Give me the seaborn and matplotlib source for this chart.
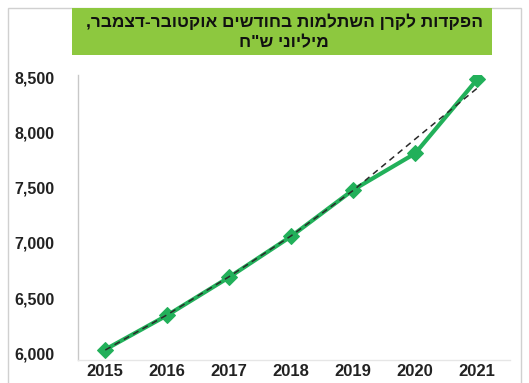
import matplotlib
matplotlib.use("Agg")
import matplotlib.pyplot as plt
import seaborn as sns
import pandas as pd
from matplotlib.patches import Rectangle
from matplotlib.ticker import FuncFormatter

years = [2015, 2016, 2017, 2018, 2019, 2020, 2021]
deposits = [6035, 6345, 6690, 7060, 7480, 7810, 8480]
trend = [6030, 6350, 6695, 7065, 7475, 7940, 8400]
yticks = [6000, 6500, 7000, 7500, 8000, 8500]
title_lines = ["הפקדות לקרן השתלמות בחודשים אוקטובר-דצמבר,", 'מיליוני ש"ח']

sns.set_theme(style="white")
plt.rcParams['font.family'] = ['Liberation Sans', 'DejaVu Sans']

df = pd.DataFrame({"year": years, "value": deposits})
dft = pd.DataFrame({"year": years, "value": trend})

fig = plt.figure(figsize=(5.29, 3.83), dpi=100)
ax = fig.add_axes([78/529, 1-360/383, (510-78)/529, (360-75)/383])

green = "#22b05a"
sns.lineplot(data=df, x="year", y="value", ax=ax, color=green, linewidth=3,
             marker="D", markersize=8, markeredgecolor=green, zorder=2)
sns.lineplot(data=dft, x="year", y="value", ax=ax, color="#2a2a2a", linewidth=1.1,
             linestyle=(0, (4, 3)), zorder=3)

ax.set_xlim(2014.56, 2021.53)
ax.set_ylim(5940, 8520)
ax.set_xticks(years)
ax.set_yticks(yticks)
ax.yaxis.set_major_formatter(FuncFormatter(lambda v, p: f"{int(v):,}"))
ax.set_xlabel("")
ax.set_ylabel("")
for lab in ax.get_yticklabels():
    lab.set_fontweight("bold")
    lab.set_fontsize(11.5)
    lab.set_color("#222222")
for lab in ax.get_xticklabels():
    lab.set_fontweight("bold")
    lab.set_fontsize(12)
    lab.set_color("#222222")
ax.tick_params(axis="y", pad=17, length=0)
ax.tick_params(axis="x", pad=3, length=0)
for s in ["top", "right"]:
    ax.spines[s].set_visible(False)
ax.spines["left"].set_color("#c8c8c8")
ax.spines["bottom"].set_color("#e6e6e6")
ax.spines["left"].set_linewidth(1.0)
ax.spines["bottom"].set_linewidth(1.0)

# outer frame
fig.patches.append(Rectangle((8/529, -0.01), (521-8)/529, 1-8/383+0.01, transform=fig.transFigure,
                             fill=False, edgecolor="#d0d0d0", linewidth=1.0))
# title box
fig.patches.append(Rectangle((72/529, 1-55/383), (492-72)/529, (55-8)/383, transform=fig.transFigure,
                             facecolor="#8dc83f", edgecolor="none"))
fig.text(284/529, 1-22/383, title_lines[0][::-1], ha="center", va="center",
         fontsize=12.4, fontweight="bold", color="#111111")
fig.text(284/529, 1-43/383, title_lines[1][::-1], ha="center", va="center",
         fontsize=12.4, fontweight="bold", color="#111111")

fig.savefig("out.png", dpi=100)
